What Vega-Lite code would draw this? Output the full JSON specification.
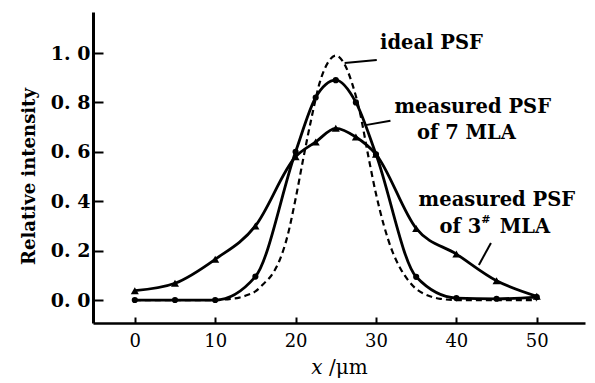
{
  "$schema": "https://vega.github.io/schema/vega-lite/v6.json",
  "width": 492,
  "height": 311,
  "autosize": "none",
  "padding": {"left": 93, "top": 12, "right": 10, "bottom": 60},
  "background": "white",
  "config": {"view": {"stroke": null}, "font": "DejaVu Serif"},
  "datasets": {
    "curves": [
      {"series": "ideal", "x": 0, "y": 0},
      {"series": "ideal", "x": 5, "y": 0},
      {"series": "ideal", "x": 10, "y": 0},
      {"series": "ideal", "x": 12, "y": 0.005},
      {"series": "ideal", "x": 13, "y": 0.01},
      {"series": "ideal", "x": 14, "y": 0.02},
      {"series": "ideal", "x": 15, "y": 0.035},
      {"series": "ideal", "x": 16, "y": 0.065},
      {"series": "ideal", "x": 17, "y": 0.1},
      {"series": "ideal", "x": 18, "y": 0.16},
      {"series": "ideal", "x": 19, "y": 0.26},
      {"series": "ideal", "x": 20, "y": 0.41},
      {"series": "ideal", "x": 21, "y": 0.58},
      {"series": "ideal", "x": 22, "y": 0.74},
      {"series": "ideal", "x": 23, "y": 0.88},
      {"series": "ideal", "x": 24, "y": 0.96},
      {"series": "ideal", "x": 25, "y": 0.99},
      {"series": "ideal", "x": 26, "y": 0.96},
      {"series": "ideal", "x": 27, "y": 0.88},
      {"series": "ideal", "x": 28, "y": 0.76},
      {"series": "ideal", "x": 29, "y": 0.59},
      {"series": "ideal", "x": 30, "y": 0.43},
      {"series": "ideal", "x": 31, "y": 0.3},
      {"series": "ideal", "x": 32, "y": 0.2},
      {"series": "ideal", "x": 33, "y": 0.13},
      {"series": "ideal", "x": 34, "y": 0.08},
      {"series": "ideal", "x": 35, "y": 0.045},
      {"series": "ideal", "x": 36, "y": 0.025},
      {"series": "ideal", "x": 37, "y": 0.012},
      {"series": "ideal", "x": 38, "y": 0.005},
      {"series": "ideal", "x": 40, "y": 0},
      {"series": "ideal", "x": 45, "y": 0},
      {"series": "ideal", "x": 50, "y": 0},
      {"series": "mla7", "x": 0, "y": 0},
      {"series": "mla7", "x": 5, "y": 0},
      {"series": "mla7", "x": 10, "y": 0},
      {"series": "mla7", "x": 15, "y": 0.095},
      {"series": "mla7", "x": 20, "y": 0.6},
      {"series": "mla7", "x": 22.5, "y": 0.82},
      {"series": "mla7", "x": 25, "y": 0.89},
      {"series": "mla7", "x": 27.5, "y": 0.8},
      {"series": "mla7", "x": 30, "y": 0.59},
      {"series": "mla7", "x": 35, "y": 0.094},
      {"series": "mla7", "x": 40, "y": 0.008},
      {"series": "mla7", "x": 45, "y": 0.005},
      {"series": "mla7", "x": 50, "y": 0.012},
      {"series": "mla3", "x": 0, "y": 0.038},
      {"series": "mla3", "x": 5, "y": 0.068},
      {"series": "mla3", "x": 10, "y": 0.165},
      {"series": "mla3", "x": 15, "y": 0.3},
      {"series": "mla3", "x": 20, "y": 0.58},
      {"series": "mla3", "x": 22.5, "y": 0.64},
      {"series": "mla3", "x": 25, "y": 0.695},
      {"series": "mla3", "x": 27.5, "y": 0.66},
      {"series": "mla3", "x": 30, "y": 0.59},
      {"series": "mla3", "x": 35, "y": 0.29},
      {"series": "mla3", "x": 40, "y": 0.186},
      {"series": "mla3", "x": 45, "y": 0.078},
      {"series": "mla3", "x": 50, "y": 0.015}
    ],
    "labels": [
      {"text": "ideal PSF", "x": 30.5, "y": 1.04},
      {"text": "measured PSF", "x": 32.3, "y": 0.78},
      {"text": "of 7 MLA", "x": 35.1, "y": 0.675},
      {"text": "measured PSF", "x": 35.3, "y": 0.405},
      {"text": "of 3", "x": 37.9, "y": 0.296},
      {"text": "MLA", "x": 45.4, "y": 0.296}
    ],
    "sup": [
      {"text": "#", "x": 43.1, "y": 0.325}
    ],
    "leaders": [
      {"x": 26.1, "y": 0.96, "x2": 30.1, "y2": 0.972},
      {"x": 28.7, "y": 0.708, "x2": 31.8, "y2": 0.726},
      {"x": 42.8, "y": 0.142, "x2": 44.3, "y2": 0.231}
    ]
  },
  "encoding": {
    "x": {
      "field": "x",
      "type": "quantitative",
      "scale": {"domain": [-5.2, 56], "nice": false, "zero": false},
      "axis": {
        "values": [0, 10, 20, 30, 40, 50],
        "title": "𝑥 /μm",
        "titleFont": "DejaVu Serif",
        "titleFontSize": 20,
        "titleFontWeight": "normal",
        "titleColor": "black",
        "titlePadding": 7,
        "labelFont": "DejaVu Serif",
        "labelFontSize": 18,
        "labelColor": "black",
        "labelPadding": 15,
        "tickSize": -6,
        "tickWidth": 2,
        "tickColor": "black",
        "domainColor": "black",
        "domainWidth": 2.5,
        "grid": false
      }
    },
    "y": {
      "field": "y",
      "type": "quantitative",
      "scale": {"domain": [-0.093, 1.166], "nice": false, "zero": false},
      "axis": {
        "values": [0, 0.2, 0.4, 0.6, 0.8, 1.0],
        "labelExpr": "replace(format(datum.value, '.1f'), '.', '. ')",
        "title": "Relative intensity",
        "titleFont": "DejaVu Serif",
        "titleFontSize": 18,
        "titleFontWeight": "bold",
        "titleColor": "black",
        "titlePadding": 12,
        "titleY": 164,
        "labelFont": "DejaVu Serif",
        "labelFontSize": 19,
        "labelFontWeight": "bold",
        "labelColor": "black",
        "labelPadding": 13,
        "tickSize": -10,
        "tickWidth": 2,
        "tickColor": "black",
        "domainColor": "black",
        "domainWidth": 3,
        "grid": false
      }
    }
  },
  "layer": [
    {
      "data": {"name": "curves"},
      "transform": [{"filter": "datum.series === 'ideal'"}],
      "mark": {"type": "line", "interpolate": "monotone", "color": "black", "strokeWidth": 2.2, "strokeDash": [6, 4]}
    },
    {
      "data": {"name": "curves"},
      "transform": [{"filter": "datum.series !== 'ideal'"}],
      "mark": {"type": "line", "interpolate": "monotone", "color": "black", "strokeWidth": 2.8},
      "encoding": {"detail": {"field": "series"}}
    },
    {
      "data": {"name": "curves"},
      "transform": [{"filter": "datum.series === 'mla3'"}],
      "mark": {"type": "point", "shape": "triangle-up", "filled": true, "color": "black", "size": 65, "opacity": 1}
    },
    {
      "data": {"name": "curves"},
      "transform": [{"filter": "datum.series === 'mla7'"}],
      "mark": {"type": "point", "shape": "circle", "filled": true, "color": "black", "size": 38, "opacity": 1}
    },
    {
      "data": {"name": "leaders"},
      "mark": {"type": "rule", "color": "black", "strokeWidth": 2},
      "encoding": {"x2": {"field": "x2"}, "y2": {"field": "y2"}}
    },
    {
      "data": {"name": "labels"},
      "mark": {"type": "text", "align": "left", "baseline": "middle", "font": "DejaVu Serif", "fontSize": 19.5, "fontWeight": "bold", "color": "black"},
      "encoding": {"text": {"field": "text"}}
    },
    {
      "data": {"name": "sup"},
      "mark": {"type": "text", "align": "left", "baseline": "middle", "font": "DejaVu Serif", "fontSize": 11, "fontWeight": "bold", "color": "black"},
      "encoding": {"text": {"field": "text"}}
    }
  ]
}
